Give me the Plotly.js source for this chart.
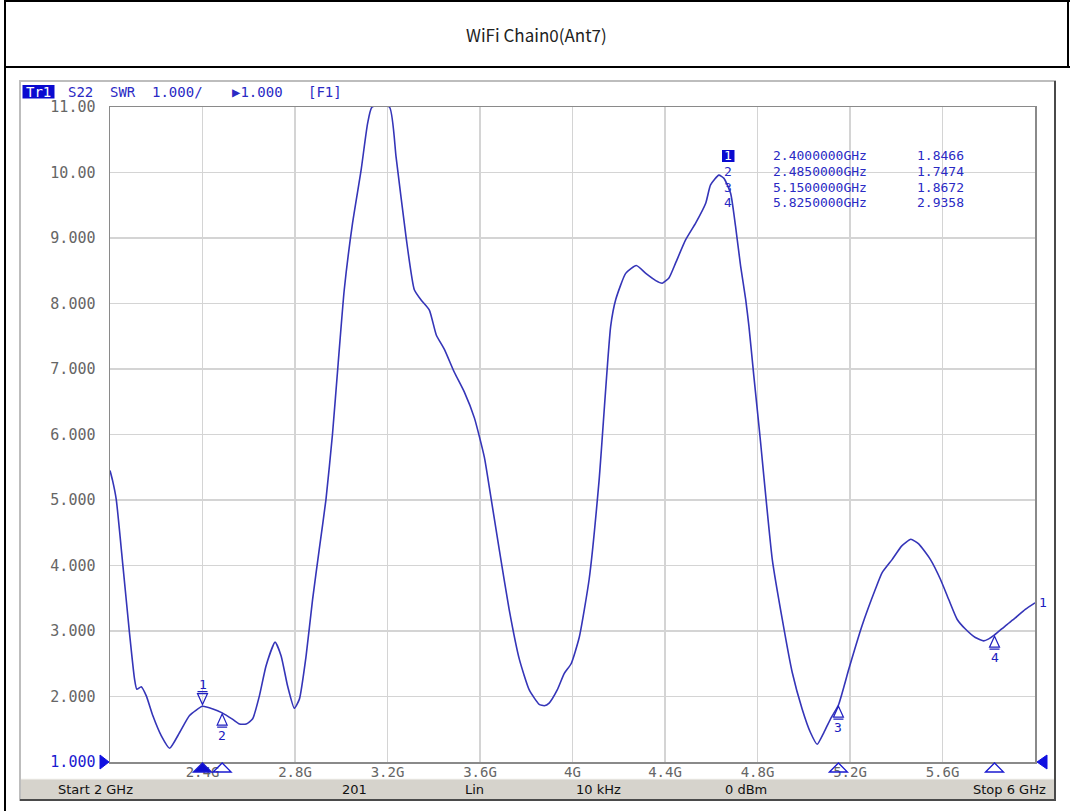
<!DOCTYPE html>
<html>
<head>
<meta charset="utf-8">
<script src="https://cdn.plot.ly/plotly-3.0.1.min.js"></script>
<style>
  html, body { margin: 0; padding: 0; background: #ffffff; }
  #chart { width: 1070px; height: 811px; }
</style>
</head>
<body>
<div id="chart"></div>
<script>
// ---------------- data ----------------
const freqGHz = [
  2.000, 2.011, 2.027, 2.056, 2.084, 2.106, 2.116, 2.135, 2.157, 2.185,
  2.222, 2.258, 2.301, 2.344, 2.400, 2.445, 2.485, 2.531, 2.560, 2.589,
  2.617, 2.646, 2.675, 2.714, 2.740, 2.768, 2.797, 2.819, 2.848, 2.876,
  2.905, 2.934, 2.962, 2.987, 3.013, 3.049, 3.086, 3.114, 3.133, 3.208,
  3.237, 3.280, 3.316, 3.346, 3.381, 3.411, 3.446, 3.489, 3.532, 3.576,
  3.619, 3.640, 3.683, 3.726, 3.770, 3.813, 3.856, 3.878, 3.899, 3.934,
  3.964, 3.994, 4.029, 4.072, 4.115, 4.165, 4.187, 4.230, 4.276, 4.317,
  4.360, 4.388, 4.417, 4.446, 4.489, 4.533, 4.576, 4.597, 4.633, 4.655,
  4.684, 4.705, 4.727, 4.749, 4.763, 4.784, 4.810, 4.864, 4.907, 4.950,
  4.993, 5.029, 5.058, 5.087, 5.116, 5.150, 5.195, 5.252, 5.310, 5.339,
  5.382, 5.424, 5.463, 5.497, 5.548, 5.591, 5.627, 5.663, 5.699, 5.742,
  5.778, 5.800, 5.825, 5.872, 5.915, 5.958, 6.000
];
const swr = [
  5.45, 5.30, 5.01, 3.99, 2.98, 2.27, 2.11, 2.15, 2.01, 1.71,
  1.40, 1.21, 1.45, 1.71, 1.85, 1.81, 1.75, 1.65, 1.58, 1.58,
  1.66, 2.01, 2.47, 2.83, 2.62, 2.16, 1.82, 1.96, 2.62, 3.48,
  4.25, 5.01, 6.00, 7.10, 8.21, 9.23, 10.04, 10.75, 11.00, 11.00,
  10.24, 9.02, 8.21, 8.05, 7.90, 7.52, 7.30, 6.95, 6.65, 6.25,
  5.65, 5.20, 4.25, 3.33, 2.57, 2.10, 1.88, 1.86, 1.90, 2.10,
  2.35, 2.50, 2.90, 3.79, 5.30, 7.65, 8.06, 8.46, 8.58, 8.46,
  8.35, 8.31, 8.39, 8.62, 8.97, 9.23, 9.53, 9.81, 9.96, 9.91,
  9.68, 9.18, 8.57, 8.06, 7.65, 6.90, 6.00, 4.09, 3.18, 2.37,
  1.81, 1.45, 1.27, 1.45, 1.66, 1.87, 2.42, 3.08, 3.64, 3.89,
  4.09, 4.30, 4.40, 4.33, 4.09, 3.79, 3.48, 3.18, 3.03, 2.90,
  2.85, 2.88, 2.94, 3.08, 3.20, 3.33, 3.43
];
const markerNo   = [1, 2, 3, 4];
const markerFreq = [2.4, 2.485, 5.15, 5.825];
const markerSWR  = [1.8466, 1.7474, 1.8672, 2.9358];
const markerFreqText = ['2.4000000GHz', '2.4850000GHz', '5.1500000GHz', '5.8250000GHz'];
const markerSWRText  = ['1.8466', '1.7474', '1.8672', '2.9358'];

const yTickVals = [1, 2, 3, 4, 5, 6, 7, 8, 9, 10, 11];
const yTickText = ['1.000', '2.000', '3.000', '4.000', '5.000', '6.000', '7.000', '8.000', '9.000', '10.00', '11.00'];
const xTickVals = [2.4, 2.8, 3.2, 3.6, 4.0, 4.4, 4.8, 5.2, 5.6];
const xTickText = ['2.4G', '2.8G', '3.2G', '3.6G', '4G', '4.4G', '4.8G', '5.2G', '5.6G'];

const chartTitle = 'WiFi Chain0(Ant7)';
const traceTag = 'Tr1';
const headerTokens = ['S22', 'SWR', '1.000/', '\u25B61.000', '[F1]'];
const statusLabels = ['Start 2 GHz', '201', 'Lin', '10 kHz', '0 dBm', 'Stop 6 GHz'];

// ---------------- layout geometry / styles ----------------
const W = 1070, H = 811;
const PL = 110, PR = 1035, PT = 107, PB = 762;
const px = v => (v - PL) / (PR - PL);      // pixel x -> paper
const py = v => (PB - v) / (PB - PT);      // pixel y -> paper

const BLUE = '#2a2ac4';
const TRACE = '#3535b8';
const MONO = 'DejaVu Sans Mono, monospace';

const shapes = [];
const annotations = [];

// screenshot frame
shapes.push({type: 'rect', xref: 'paper', yref: 'paper', x0: px(20), x1: px(1055), y0: py(81), y1: py(800),
  fillcolor: '#ffffff', line: {color: '#bdbdbd', width: 2}, layer: 'below'});
shapes.push({type: 'line', xref: 'paper', yref: 'paper', x0: px(1055), x1: px(1055), y0: py(81), y1: py(801),
  line: {color: '#4a4a4a', width: 2}, layer: 'below'});
shapes.push({type: 'line', xref: 'paper', yref: 'paper', x0: px(20), x1: px(1056), y0: py(800), y1: py(800),
  line: {color: '#4a4a4a', width: 2}, layer: 'below'});
// status bar
shapes.push({type: 'rect', xref: 'paper', yref: 'paper', x0: px(21), x1: px(1054), y0: py(779), y1: py(799),
  fillcolor: '#d6d3cc', line: {width: 0}, layer: 'below'});
shapes.push({type: 'line', xref: 'paper', yref: 'paper', x0: px(21), x1: px(1054), y0: py(779), y1: py(779),
  line: {color: '#f4f4f0', width: 1}, layer: 'below'});
// black document frame
shapes.push({type: 'line', xref: 'paper', yref: 'paper', x0: px(5), x1: px(5), y0: py(0), y1: py(811),
  line: {color: '#000000', width: 2}});
shapes.push({type: 'line', xref: 'paper', yref: 'paper', x0: px(4), x1: px(1070), y0: py(1), y1: py(1),
  line: {color: '#000000', width: 2}});
shapes.push({type: 'line', xref: 'paper', yref: 'paper', x0: px(4), x1: px(1070), y0: py(67), y1: py(67),
  line: {color: '#000000', width: 2}});
shapes.push({type: 'line', xref: 'paper', yref: 'paper', x0: px(1068), x1: px(1068), y0: py(0), y1: py(67),
  line: {color: '#000000', width: 2}});

// reference level triangles at the ends of the 1.000 line
shapes.push({type: 'path', xref: 'paper', yref: 'paper', xsizemode: 'pixel', ysizemode: 'pixel',
  xanchor: 0, yanchor: 0, path: 'M -10,7 L -1,0 L -10,-7 Z',
  fillcolor: '#1010e0', line: {color: '#1010e0', width: 1}});
shapes.push({type: 'path', xref: 'paper', yref: 'paper', xsizemode: 'pixel', ysizemode: 'pixel',
  xanchor: 1, yanchor: 0, path: 'M 12,7 L 2,0 L 12,-7 Z',
  fillcolor: '#1010e0', line: {color: '#1010e0', width: 1}});

// stimulus markers on the frequency axis
markerFreq.forEach((f, i) => {
  shapes.push({type: 'path', xref: 'x', yref: 'paper', xsizemode: 'pixel', ysizemode: 'pixel',
    xanchor: f, yanchor: 0, path: 'M -9,-10 L 0,-1 L 9,-10 Z',
    fillcolor: i === 0 ? '#1010d0' : 'rgba(255,255,255,0)',
    line: {color: '#1a1ad0', width: 1.3}});
});

// markers on the trace
markerFreq.forEach((f, i) => {
  const above = i === 0;
  const p = above
    ? 'M -5,13 L 5,13 L 0,2 Z M -5,15 L 5,15'
    : 'M -5,-12 L 5,-12 L 0,-1 Z M -5,-14 L 5,-14';
  shapes.push({type: 'path', xref: 'x', yref: 'y', xsizemode: 'pixel', ysizemode: 'pixel',
    xanchor: f, yanchor: markerSWR[i], path: p,
    fillcolor: 'rgba(255,255,255,0)', line: {color: '#2020c0', width: 1.2}});
  annotations.push({x: f, y: markerSWR[i], xref: 'x', yref: 'y', text: String(markerNo[i]),
    showarrow: false, yshift: above ? 22 : -22, font: {family: MONO, size: 13, color: '#2020c0'}});
});

// trace end label
annotations.push({x: freqGHz[freqGHz.length - 1], y: swr[swr.length - 1], xref: 'x', yref: 'y',
  text: '1', showarrow: false, xanchor: 'left', xshift: 2, font: {family: MONO, size: 13, color: '#2020c0'}});

// header line
shapes.push({type: 'rect', xref: 'paper', yref: 'paper', x0: px(22.5), x1: px(54.5), y0: py(98.5), y1: py(85),
  fillcolor: '#0a0ad0', line: {width: 0}});
annotations.push({x: px(38.5), y: py(92), xref: 'paper', yref: 'paper', text: traceTag, showarrow: false,
  xanchor: 'center', yanchor: 'middle', font: {family: MONO, size: 14, color: '#ffffff'}});
const headerX = [66, 108, 150, 230, 306];
headerTokens.forEach((t, i) => {
  annotations.push({x: px(headerX[i]), y: py(92), xref: 'paper', yref: 'paper', text: t, showarrow: false,
    xanchor: 'left', yanchor: 'middle', font: {family: MONO, size: 14, color: BLUE}});
});

// marker table
const rowY = [156, 171.5, 187, 202.5];
shapes.push({type: 'rect', xref: 'paper', yref: 'paper', x0: px(722), x1: px(734.5), y0: py(162), y1: py(150),
  fillcolor: '#0a0ad0', line: {width: 0}});
markerNo.forEach((n, i) => {
  annotations.push({x: px(728), y: py(rowY[i]), xref: 'paper', yref: 'paper', text: String(n), showarrow: false,
    xanchor: 'center', yanchor: 'middle', borderpad: 0,
    font: {family: MONO, size: 13, color: i === 0 ? '#ffffff' : BLUE}});
  annotations.push({x: px(820), y: py(rowY[i]), xref: 'paper', yref: 'paper', text: markerFreqText[i], showarrow: false,
    xanchor: 'center', yanchor: 'middle', borderpad: 0, font: {family: MONO, size: 13, color: BLUE}});
  annotations.push({x: px(940), y: py(rowY[i]), xref: 'paper', yref: 'paper', text: markerSWRText[i], showarrow: false,
    xanchor: 'center', yanchor: 'middle', borderpad: 0, font: {family: MONO, size: 13, color: BLUE}});
});

// status bar texts
const statusX = [95, 354, 474, 598, 746, 1048];
const statusAnchor = ['center', 'center', 'center', 'center', 'center', 'right'];
statusLabels.forEach((s, i) => {
  annotations.push({x: px(statusX[i]), y: py(789), xref: 'paper', yref: 'paper', text: s, showarrow: false,
    xanchor: statusAnchor[i], yanchor: 'middle', font: {family: 'DejaVu Sans, sans-serif', size: 13, color: '#111111'}});
});

// chart title
annotations.push({x: px(536), y: py(34), xref: 'paper', yref: 'paper', text: chartTitle, showarrow: false,
  xanchor: 'center', yanchor: 'middle', font: {family: 'Noto Sans CJK KR, Noto Sans, sans-serif', size: 17, color: '#222222'}});

const yTickLabels = yTickText.map((t, i) => i === 0 ? '<span style="color:#1a1ad0">' + t + '</span>' : t);

const data = [{
  x: freqGHz, y: swr, type: 'scatter', mode: 'lines',
  line: {color: TRACE, width: 1.6, shape: 'spline', smoothing: 0.5},
  hoverinfo: 'x+y'
}];

const layout = {
  width: W, height: H,
  margin: {l: PL, r: W - PR, t: PT, b: H - PB, pad: 0},
  paper_bgcolor: '#ffffff', plot_bgcolor: '#ffffff',
  showlegend: false,
  xaxis: {
    range: [2, 6], tickvals: xTickVals, ticktext: xTickText,
    showgrid: true, gridcolor: '#d4d4d4', gridwidth: 1.5, zeroline: false,
    showline: true, mirror: true, linecolor: '#8a8a8a', linewidth: 1.5,
    ticks: '', ticklabelstandoff: -3,
    tickfont: {family: MONO, size: 14, color: '#666666'}, fixedrange: true
  },
  yaxis: {
    range: [1, 11], tickvals: yTickVals, ticktext: yTickLabels,
    showgrid: true, gridcolor: '#d4d4d4', gridwidth: 1.5, zeroline: false,
    showline: true, mirror: true, linecolor: '#8a8a8a', linewidth: 1.5,
    ticks: '', ticklabelstandoff: 10,
    tickfont: {family: MONO, size: 15, color: '#666666'}, fixedrange: true
  },
  shapes: shapes,
  annotations: annotations
};

Plotly.newPlot('chart', data, layout, {displayModeBar: false, staticPlot: true});
</script>
</body>
</html>
